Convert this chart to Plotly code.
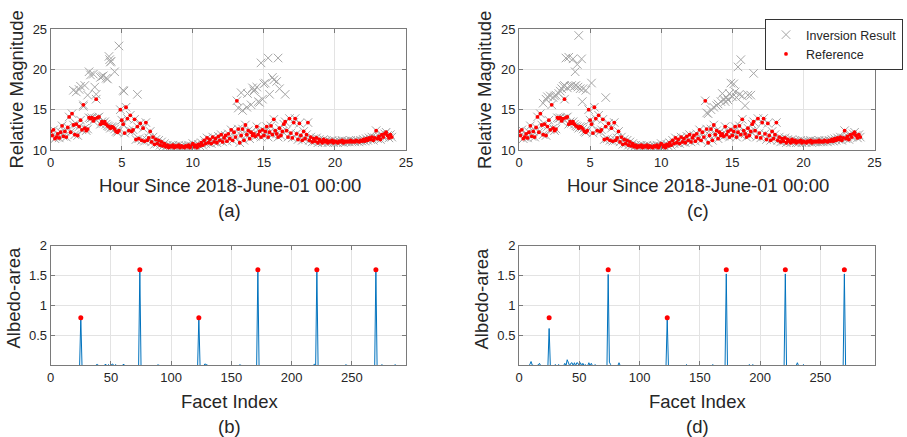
import plotly.graph_objects as go

# ---------------- data ----------------
hours = [round(i * 0.1, 1) for i in range(241)]

ref_mag = [
    12.3, 11.8, 12.5, 11.4, 11.6, 12.0, 11.5, 12.2, 13.0, 11.7,
    12.3, 11.6, 12.8, 14.1, 12.2, 14.5, 13.1, 11.9, 13.2, 11.8,
    12.9, 13.7, 12.5, 15.6, 12.7, 12.4, 12.6, 14.0, 13.9, 14.0,
    13.6, 13.9, 16.3, 14.0, 14.1, 13.2, 13.5, 13.3, 13.5, 13.2,
    13.0, 12.9, 12.7, 12.9, 12.8, 12.6, 12.3, 12.2, 12.4, 15.0,
    13.7, 13.2, 12.1, 15.3, 13.9, 12.4, 14.3, 12.3, 12.5, 13.8,
    11.3, 12.9, 11.4, 13.3, 11.2, 12.7, 11.1, 13.4, 11.2, 11.5,
    12.3, 11.0, 11.6, 10.7, 11.3, 10.8, 11.2, 10.6, 11.0, 10.5,
    10.8, 10.4, 10.6, 10.3, 10.5, 10.4, 10.6, 10.3, 10.5, 10.4,
    10.6, 10.3, 10.5, 10.4, 10.3, 10.5, 10.4, 10.6, 10.3, 10.5,
    10.8, 10.4, 10.6, 10.3, 10.7, 10.5, 10.9, 10.6, 11.2, 10.8,
    11.5, 10.9, 11.3, 10.8, 11.6, 11.0, 11.4, 10.9, 11.7, 11.2,
    11.9, 11.0, 11.5, 11.8, 11.1, 12.0, 11.4, 12.5, 11.2, 12.2,
    11.6, 16.1, 12.6, 10.9, 11.8, 12.6, 11.2, 13.1, 11.9, 12.4,
    11.4, 12.2, 11.8, 12.0, 11.7, 12.9, 11.9, 12.3, 11.6, 12.5,
    11.8, 12.3, 12.9, 11.6, 12.2, 13.0, 11.9, 13.8, 12.4, 12.0,
    11.6, 12.7, 11.8, 12.3, 13.2, 13.5, 12.4, 11.6, 13.9, 12.1,
    11.5, 13.4, 13.9, 12.0, 11.3, 13.3, 11.8, 11.2, 12.3, 11.4,
    11.9, 13.4, 11.2, 11.6, 11.0, 11.4, 11.1, 11.5, 10.9, 11.3,
    11.1, 10.9, 11.3, 11.0, 11.2, 10.9, 11.1, 11.0, 11.2, 10.9,
    11.1, 11.0, 10.9, 11.1, 11.0, 11.2, 10.9, 11.1, 11.0, 11.1,
    11.0, 11.2, 11.0, 11.1, 11.0, 11.2, 11.1, 11.0, 11.2, 11.1,
    11.3, 11.1, 11.4, 11.2, 11.5, 11.3, 11.6, 11.2, 11.5, 12.4,
    11.4, 11.7, 11.3, 11.9, 11.6, 12.0, 12.2, 11.8, 11.5, 11.9, 11.6,
]

inv_track = [
    12.3, 11.8, 12.5, 11.4, 11.6, 12.0, 11.5, 12.2, 13.0, 11.7,
    12.3, 11.6, 12.8, 14.1, 12.2, 14.5, 13.1, 11.9, 13.2, 11.8,
    12.9, 13.7, 12.5, 15.6, 12.7, 12.4, 12.6, 14.0, 13.9, 14.0,
    13.6, 13.9, 16.3, 14.0, 14.1, 13.2, 13.5, 13.3, 13.5, 13.2,
    13.0, 12.9, 12.7, 12.9, 12.8, 12.6, 12.3, 12.2, 12.4, 15.0,
    13.7, 13.2, 12.1, 15.3, 13.9, 12.4, 14.3, 12.3, 12.5, 13.8,
    11.3, 12.9, 11.4, 13.3, 11.2, 12.7, 11.1, 13.4, 11.2, 11.5,
    12.3, 11.0, 11.6, 10.7, 11.3, 10.8, 11.2, 10.6, 11.0, 10.5,
    10.8, 10.4, 10.6, 10.3, 10.5, 10.4, 10.6, 10.3, 10.5, 10.4,
    10.6, 10.3, 10.5, 10.4, 10.3, 10.5, 10.4, 10.6, 10.3, 10.5,
    10.8, 10.4, 10.6, 10.3, 10.7, 10.5, 10.9, 10.6, 11.2, 10.8,
    11.5, 10.9, 11.3, 10.8, 11.6, 11.0, 11.4, 10.9, 11.7, 11.2,
    11.9, 11.0, 11.5, 11.8, 11.1, 12.0, 11.4, 12.5, 11.2, 12.2,
    11.6, 16.1, 12.6, 10.9, 11.8, 12.6, 11.2, 13.1, 11.9, 12.4,
    11.4, 12.2, 11.8, 12.0, 11.7, 12.9, 11.9, 12.3, 11.6, 12.5,
    11.8, 12.3, 12.9, 11.6, 12.2, 13.0, 11.9, 13.8, 12.4, 12.0,
    11.6, 12.7, 11.8, 12.3, 13.2, 13.5, 12.4, 11.6, 13.9, 12.1,
    11.5, 13.4, 13.9, 12.0, 11.3, 13.3, 11.8, 11.2, 12.3, 11.4,
    11.9, 13.4, 11.2, 11.6, 11.0, 11.4, 11.1, 11.5, 10.9, 11.3,
    11.1, 10.9, 11.3, 11.0, 11.2, 10.9, 11.1, 11.0, 11.2, 10.9,
    11.1, 11.0, 10.9, 11.1, 11.0, 11.2, 10.9, 11.1, 11.0, 11.1,
    11.0, 11.2, 11.0, 11.1, 11.0, 11.2, 11.1, 11.0, 11.2, 11.1,
    11.3, 11.1, 11.4, 11.2, 11.5, 11.3, 11.6, 11.2, 11.5, 12.4,
    11.4, 11.7, 11.3, 11.9, 11.6, 12.0, 12.2, 11.8, 11.5, 11.9, 11.6,
]

# inversion points that depart from the reference, panel (a)
a_peak_t = [1.6, 1.8, 2.0, 2.1, 2.3, 2.4, 2.6, 2.7, 2.8, 3.0,
            3.1, 3.2, 3.5, 3.6, 3.7, 3.9, 4.0, 4.1, 4.15, 4.2,
            4.25, 4.5, 4.8, 5.1, 5.15, 6.1,
            13.2, 13.4, 13.5, 13.8, 13.85, 14.1, 14.2, 14.3, 14.35, 14.5,
            14.6, 14.7, 14.8, 14.9, 15.0, 15.1, 15.3, 15.4, 15.6, 15.7,
            15.9, 16.0, 16.1, 16.5]
a_peak_v = [17.4, 17.2, 17.5, 17.9, 15.4, 18.0, 16.8, 19.7, 19.3, 19.4,
            17.8, 16.9, 19.0, 19.1, 19.2, 18.9, 18.8, 21.6, 21.2, 20.9,
            21.0, 19.7, 22.9, 17.4, 17.3, 16.9,
            15.2, 17.1, 14.9, 15.3, 17.0, 15.6, 17.7, 17.3, 17.5, 17.8,
            16.0, 15.9, 20.8, 16.3, 18.2, 18.3, 21.4, 16.9, 19.0, 18.7,
            18.5, 21.4, 17.6, 16.9]

# inversion points that depart from the reference, panel (c)
c_peak_t = [1.7, 1.9, 2.0, 2.2, 2.4, 2.5, 2.6, 2.8, 2.9, 3.0,
            3.1, 3.2, 3.3, 3.4, 3.5, 3.6, 3.7, 3.8, 3.9, 3.95,
            4.0, 4.1, 4.15, 4.2, 4.3, 4.4, 4.45, 4.5, 4.7, 5.1, 6.1,
            13.2, 13.3, 13.5, 13.7, 13.9, 14.0, 14.2, 14.3, 14.4, 14.5,
            14.6, 14.7, 14.8, 14.9, 15.0, 15.1, 15.2, 15.3, 15.4, 15.5,
            15.6, 15.7, 15.9, 16.1, 16.3, 16.5]
c_peak_v = [15.8, 16.3, 16.6, 16.7, 16.5, 16.7, 16.8, 17.0, 17.3, 17.6,
            17.9, 18.0, 21.4, 17.7, 21.5, 17.9, 18.0, 21.3, 17.9, 19.7,
            18.0, 20.6, 17.8, 24.2, 17.6, 21.3, 16.0, 17.6, 17.4, 18.3, 16.5,
            14.6, 14.5, 15.0, 15.3, 15.5, 15.7, 16.0, 17.0, 16.3, 16.0,
            16.5, 16.2, 17.0, 18.3, 16.6, 18.2, 17.2, 16.5, 20.3, 16.9,
            21.2, 16.7, 15.5, 16.8, 16.8, 19.5]

n_facets = 288
facet_index = list(range(1, n_facets + 1))

ref_facet = [25, 74, 123, 172, 221, 270]
ref_albedo = [0.8, 1.6, 0.8, 1.6, 1.6, 1.6]

b_nz_facet = [25, 38, 39, 45, 46, 48, 51, 52, 54, 60, 61, 74, 89, 123, 128, 129,
              157, 172, 219, 221, 245, 270, 275, 286]
b_nz_albedo = [0.8, 0.02, 0.02, 0.02, 0.02, 0.02, 0.03, 0.02, 0.02, 0.02, 0.02, 1.6,
               0.015, 0.8, 0.03, 0.02, 0.015, 1.6, 0.03, 1.6, 0.015, 1.6, 0.02, 0.02]

d_nz_facet = [9, 10, 11, 16, 17, 25, 30, 33, 38, 40, 41, 43, 44, 46, 48, 49, 51, 53,
              55, 58, 60, 63, 74, 75, 76, 83, 123, 139, 161, 172, 191, 194, 221,
              231, 236, 270]
d_nz_albedo = [0.02, 0.07, 0.01, 0.01, 0.04, 0.62, 0.02, 0.02, 0.04, 0.1, 0.05, 0.04,
               0.05, 0.05, 0.05, 0.04, 0.05, 0.04, 0.02, 0.05, 0.04, 0.02, 1.52, 0.06,
               0.02, 0.05, 0.78, 0.02, 0.02, 1.53, 0.02, 0.02, 1.53, 0.05, 0.02, 1.53]


def full_albedo(idx, vals):
    lookup = dict(zip(idx, vals))
    return [lookup.get(f, 0.0) for f in facet_index]


b_albedo = full_albedo(b_nz_facet, b_nz_albedo)
d_albedo = full_albedo(d_nz_facet, d_nz_albedo)

# ---------------- styling ----------------
W, H = 907, 437
FONT = "Liberation Sans, Arial, sans-serif"
TXT = "#262626"
GRAY_X = "#a6a6a6"
RED = "#ff0000"
BLUE = "#0072bd"


def px_x(p):
    return p / W


def px_y(p):
    return 1 - p / H


fig = go.Figure()

# panel (a)
fig.add_trace(go.Scatter(x=hours + a_peak_t, y=inv_track + a_peak_v, mode="markers",
                         marker=dict(symbol="x-thin-open", size=8.5, color=GRAY_X,
                                     line=dict(width=1, color=GRAY_X)),
                         showlegend=False, xaxis="x", yaxis="y"))
fig.add_trace(go.Scatter(x=hours, y=ref_mag, mode="markers",
                         marker=dict(symbol="circle", size=3.8, color=RED),
                         showlegend=False, xaxis="x", yaxis="y"))
# panel (c)
fig.add_trace(go.Scatter(x=hours + c_peak_t, y=inv_track + c_peak_v, mode="markers",
                         name="Inversion Result",
                         marker=dict(symbol="x-thin-open", size=8.5, color=GRAY_X,
                                     line=dict(width=1, color=GRAY_X)),
                         xaxis="x2", yaxis="y2"))
fig.add_trace(go.Scatter(x=hours, y=ref_mag, mode="markers", name="Reference",
                         marker=dict(symbol="circle", size=3.8, color=RED),
                         xaxis="x2", yaxis="y2"))
# panel (b)
fig.add_trace(go.Scatter(x=facet_index, y=b_albedo, mode="lines",
                         line=dict(color=BLUE, width=1), showlegend=False,
                         xaxis="x3", yaxis="y3"))
fig.add_trace(go.Scatter(x=ref_facet, y=ref_albedo, mode="markers",
                         marker=dict(symbol="circle", size=5, color=RED),
                         showlegend=False, xaxis="x3", yaxis="y3"))
# panel (d)
fig.add_trace(go.Scatter(x=facet_index, y=d_albedo, mode="lines",
                         line=dict(color=BLUE, width=1), showlegend=False,
                         xaxis="x4", yaxis="y4"))
fig.add_trace(go.Scatter(x=ref_facet, y=ref_albedo, mode="markers",
                         marker=dict(symbol="circle", size=5, color=RED),
                         showlegend=False, xaxis="x4", yaxis="y4"))

axis_common = dict(showline=True, linecolor="#7a7a7a", linewidth=1, mirror="ticks",
                   ticks="inside", ticklen=4, tickcolor="#7a7a7a", showgrid=True,
                   gridcolor="#e3e3e3", gridwidth=1, zeroline=False, automargin=False,
                   tickfont=dict(family=FONT, size=13, color=TXT))

left_dom = [px_x(50.7), px_x(406)]
right_dom = [px_x(519), px_x(874.5)]
top_dom = [px_y(150), px_y(29)]
bot_dom = [px_y(365), px_y(245.7)]

hour_x = dict(axis_common, range=[0, 25], tickvals=[0, 5, 10, 15, 20, 25])
mag_y = dict(axis_common, range=[10, 25], tickvals=[10, 15, 20, 25])
facet_x = dict(axis_common, range=[0, 295], tickvals=[0, 50, 100, 150, 200, 250])
alb_y = dict(axis_common, range=[0.012, 2], tickvals=[0.5, 1, 1.5, 2],
             ticktext=["0.5", "1", "1.5", "2"])

fig.update_layout(
    template="none",
    width=W, height=H,
    margin=dict(l=0, r=0, t=0, b=0, pad=0),
    paper_bgcolor="white", plot_bgcolor="white",
    font=dict(family=FONT, color=TXT),
    xaxis=dict(hour_x, domain=left_dom, anchor="y"),
    yaxis=dict(mag_y, domain=top_dom, anchor="x"),
    xaxis2=dict(hour_x, domain=right_dom, anchor="y2"),
    yaxis2=dict(mag_y, domain=top_dom, anchor="x2"),
    xaxis3=dict(facet_x, domain=left_dom, anchor="y3"),
    yaxis3=dict(alb_y, domain=bot_dom, anchor="x3"),
    xaxis4=dict(facet_x, domain=right_dom, anchor="y4"),
    yaxis4=dict(alb_y, domain=bot_dom, anchor="x4"),
    legend=dict(x=px_x(765), y=px_y(19), xanchor="left", yanchor="top",
                bgcolor="white", bordercolor="#333333", borderwidth=1,
                font=dict(family=FONT, size=12.5, color=TXT),
                tracegroupgap=0, itemwidth=30),
    showlegend=True,
)

ann = []


def add_text(text, xp, yp, size=18.5, angle=0):
    ann.append(dict(text=text, x=px_x(xp), y=px_y(yp), xref="paper", yref="paper",
                    xanchor="center", yanchor="middle", showarrow=False,
                    textangle=angle, font=dict(family=FONT, size=size, color=TXT)))


add_text("Hour Since 2018-June-01 00:00", 229.5, 185)
add_text("Hour Since 2018-June-01 00:00", 697.5, 185)
add_text("(a)", 229.5, 210)
add_text("(c)", 697.5, 210)
add_text("Relative Magnitude", 15.5, 90, angle=-90)
add_text("Relative Magnitude", 484, 90, angle=-90)
add_text("Facet Index", 229.5, 401)
add_text("Facet Index", 697.5, 401)
add_text("(b)", 229.5, 426)
add_text("(d)", 697.5, 426)
add_text("Albedo-area", 12.5, 298, angle=-90)
add_text("Albedo-area", 480.5, 298, angle=-90)

fig.update_layout(annotations=ann)

fig.write_html("out.html", config={"displayModeBar": False},
               post_script="document.body.style.margin='0';document.body.style.overflow='hidden';")
